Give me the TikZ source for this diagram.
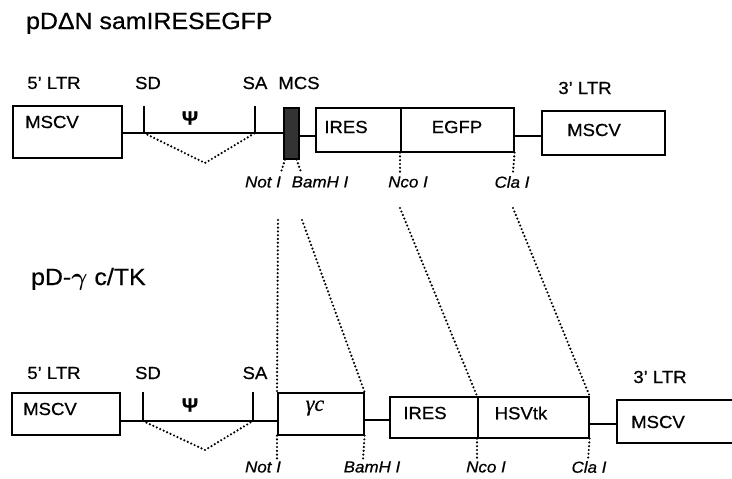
\documentclass[tikz,border=0pt]{standalone}
\usepackage{fontspec}
\setmainfont[FakeStretch=1.06,FakeBold=0.6]{Liberation Sans}
\newfontfamily\gcfont[FakeBold=0.4]{Liberation Serif}
\begin{document}
\begin{tikzpicture}[x=1pt,y=-1pt,line width=1.6pt,
    box/.style={draw,rectangle,inner sep=0pt,anchor=north west},
    lbl/.style={font=\fontsize{17.5}{19}\selectfont},
    site/.style={font=\fontsize{16}{18}\selectfont\itshape},
    cut/.style={line width=2.4pt,line cap=round,dash pattern=on 0pt off 3.8pt},
    psi/.style={font=\fontsize{19}{21}\selectfont\bfseries}]
  \clip (0,0) rectangle (732,479);
  % pDdeltaN samIRESEGFP
  \node[anchor=base west,font=\fontsize{23.5}{26}\selectfont] (titleA) at (22,29) {pDΔN samIRESEGFP};
  \node[box,minimum width=109,minimum height=52] (ltrA) at (12,105) {};
  \node[box,fill=black!80,minimum width=15,minimum height=51] (mcsA) at (283,107) {};
  \node[box,minimum width=85,minimum height=44] (iresA) at (315,107) {};
  \node[box,minimum width=113,minimum height=44] (egfpA) at (400,107) {};
  \node[box,minimum width=123,minimum height=44] (ltr3A) at (541,110) {};
  \coordinate (sdA) at (144,133);
  \coordinate (saA) at (255,133);
  \coordinate (spA) at (205,163);
  \coordinate (lnA) at (0,136);
  \draw (ltrA.east |- sdA) -- (sdA) -- (saA) -- (mcsA.west |- saA);
  \draw (mcsA.east |- lnA) -- (iresA.west |- lnA);
  \draw (egfpA.east |- lnA) -- (ltr3A.west |- lnA);
  \draw (sdA) -- ++(0,-27);
  \draw (saA) -- ++(0,-27);
  \draw[cut] (sdA) -- (spA) -- (saA);
  \node[lbl] (mscvA) at (52,122) {MSCV};
  \node[lbl] (iresAt) at (346,127) {IRES};
  \node[lbl] (egfpAt) at (457,127) {EGFP};
  \node[lbl] (mscv3A) at (594,130) {MSCV};
  \node[psi] (psiA) at (190,118) {Ψ};
  \node[lbl] (ltrAl) at (54,83) {5' LTR};
  \node[lbl] (sdAl) at (148,83) {SD};
  \node[lbl] (saAl) at (255,83) {SA};
  \node[lbl] (mcsAl) at (299,83) {MCS};
  \node[lbl] (ltr3Al) at (585,88) {3' LTR};
  \coordinate (notA) at (281,172);
  \coordinate (bamA) at (301,172);
  \coordinate (ncoA) at (400,172);
  \coordinate (claA) at (513,172);
  \draw[cut] ([xshift=2pt]mcsA.south west) -- (notA);
  \draw[cut] ([xshift=-3pt]mcsA.south east) -- (bamA);
  \draw[cut] (egfpA.south west) -- (ncoA);
  \draw[cut] (egfpA.south east) -- (claA);
  \node[site] (notAl) at (263,182) {Not I};
  \node[site] (bamAl) at (320,182) {BamH I};
  \node[site] (ncoAl) at (408,182) {Nco I};
  \node[site] (claAl) at (512,182) {Cla I};
  % pD-gamma c/TK
  \node[anchor=base west,font=\fontsize{23.5}{26}\selectfont] (titleB) at (27,285) {pD-\mbox{\boldmath$\gamma$} c/TK};
  \node[box,minimum width=108,minimum height=42] (ltrB) at (11,392) {};
  \node[box,minimum width=86,minimum height=42] (gammaB) at (277,392) {};
  \node[box,minimum width=88,minimum height=41] (iresB) at (389,396) {};
  \node[box,minimum width=111,minimum height=41] (hsvB) at (477,396) {};
  \node[box,minimum width=130,minimum height=43] (ltr3B) at (616,399) {};
  \coordinate (sdB) at (143,421);
  \coordinate (saB) at (253,421);
  \coordinate (spB) at (205,450);
  \coordinate (lnB) at (0,420);
  \coordinate (lnC) at (0,424);
  \draw (ltrB.east |- sdB) -- (sdB) -- (saB) -- (gammaB.west |- saB);
  \draw (gammaB.east |- lnB) -- (iresB.west |- lnB);
  \draw (hsvB.east |- lnC) -- (ltr3B.west |- lnC);
  \draw (sdB) -- ++(0,-29);
  \draw (saB) -- ++(0,-29);
  \draw[cut] (sdB) -- (spB) -- (saB);
  \node[lbl] (mscvB) at (50,409) {MSCV};
  \node[font=\fontsize{22}{24}\selectfont\gcfont\itshape] (gammaBt) at (315,408) {γc};
  \node[lbl] (iresBt) at (425,413) {IRES};
  \node[lbl] (hsvBt) at (521,413) {HSVtk};
  \node[lbl] (mscv3B) at (658,422) {MSCV};
  \node[psi] (psiB) at (190,405) {Ψ};
  \node[lbl] (ltrBl) at (54,373) {5' LTR};
  \node[lbl] (sdBl) at (148,373) {SD};
  \node[lbl] (saBl) at (255,373) {SA};
  \node[lbl] (ltr3Bl) at (660,377) {3' LTR};
  \coordinate (notB) at (277,460);
  \coordinate (bamB) at (363,460);
  \coordinate (ncoB) at (477,460);
  \coordinate (claB) at (588,460);
  \draw[cut] (gammaB.south west) -- (notB);
  \draw[cut] (gammaB.south east) -- (bamB);
  \draw[cut] (hsvB.south west) -- (ncoB);
  \draw[cut] (hsvB.south east) -- (claB);
  \node[site] (notBl) at (263,467) {Not I};
  \node[site] (bamBl) at (372,467) {BamH I};
  \node[site] (ncoBl) at (486,467) {Nco I};
  \node[site] (claBl) at (589,467) {Cla I};
  % lineas de correspondencia entre los sitios de corte
  \coordinate (notL) at (278,220);
  \coordinate (bamL) at (302,220);
  \coordinate (ncoL) at (400,208);
  \coordinate (claL) at (513,208);
  \draw[cut] (notL) -- (gammaB.north west);
  \draw[cut] (bamL) -- (gammaB.north east);
  \draw[cut] (ncoL) -- (hsvB.north west);
  \draw[cut] (claL) -- (hsvB.north east);
\end{tikzpicture}
\end{document}
